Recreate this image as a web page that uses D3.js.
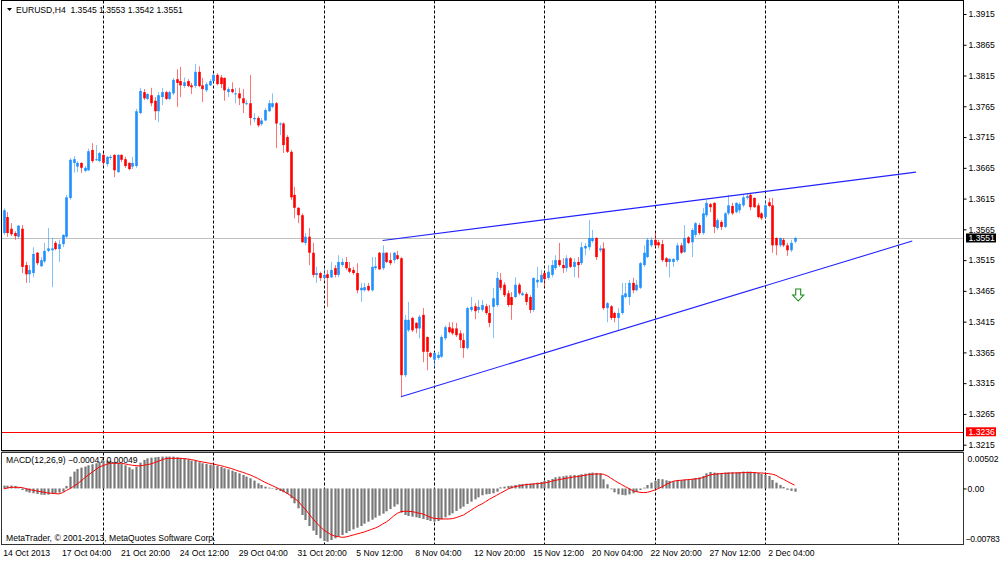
<!DOCTYPE html>
<html>
<head>
<meta charset="utf-8">
<script src="https://cdn.jsdelivr.net/npm/d3@7"></script>
<style>
  html, body { margin: 0; padding: 0; background: #fff; }
  svg { display: block; font-family: "Liberation Sans", Arial, sans-serif; font-size: 8.6px; }
</style>
</head>
<body>
<svg id="chart" width="1000" height="561"></svg>
<script>
// EURUSD H4, bars counted from 14 Oct 2013 00:00 (6 bars a day, no weekends)
const symbol = "EURUSD,H4"
const firstBar = 3

const opens = [
  1.3559, 1.3585, 1.3566, 1.3559, 1.3553, 1.3566, 1.3507, 1.3492, 1.3494, 1.3527,
  1.3505, 1.3513, 1.3530, 1.3531, 1.3543, 1.3533, 1.3541, 1.3553, 1.3616, 1.3673,
  1.3667, 1.3673, 1.3660, 1.3661, 1.3694, 1.3678, 1.3676, 1.3686, 1.3671, 1.3681,
  1.3686, 1.3658, 1.3686, 1.3679, 1.3673, 1.3667, 1.3668, 1.3754, 1.3788, 1.3777,
  1.3783, 1.3774, 1.3757, 1.3780, 1.3788, 1.3777, 1.3786, 1.3809, 1.3806, 1.3798,
  1.3806, 1.3799, 1.3798, 1.3821, 1.3799, 1.3791, 1.3799, 1.3806, 1.3816, 1.3812,
  1.3811, 1.3788, 1.3793, 1.3785, 1.3786, 1.3778, 1.3769, 1.3770, 1.3744, 1.3746,
  1.3736, 1.3742, 1.3757, 1.3764, 1.3770, 1.3736, 1.3737, 1.3715, 1.3691, 1.3621,
  1.3600, 1.3588, 1.3543, 1.3553, 1.3527, 1.3491, 1.3494, 1.3486, 1.3492, 1.3487,
  1.3502, 1.3491, 1.3507, 1.3512, 1.3502, 1.3499, 1.3494, 1.3466, 1.3466, 1.3473,
  1.3466, 1.3502, 1.3527, 1.3502, 1.3527, 1.3515, 1.3515, 1.3523, 1.3518, 1.3328,
  1.3401, 1.3421, 1.3413, 1.3404, 1.3426, 1.3390, 1.3364, 1.3353, 1.3356, 1.3358,
  1.3388, 1.3406, 1.3404, 1.3404, 1.3396, 1.3385, 1.3372, 1.3434, 1.3440, 1.3434,
  1.3434, 1.3440, 1.3429, 1.3439, 1.3442, 1.3483, 1.3475, 1.3461, 1.3455, 1.3455,
  1.3475, 1.3458, 1.3460, 1.3455, 1.3434, 1.3479, 1.3479, 1.3494, 1.3486, 1.3491,
  1.3502, 1.3515, 1.3507, 1.3502, 1.3518, 1.3504, 1.3512, 1.3510, 1.3534, 1.3536,
  1.3546, 1.3551, 1.3531, 1.3534, 1.3437, 1.3440, 1.3429, 1.3421, 1.3429, 1.3455,
  1.3455, 1.3478, 1.3466, 1.3470, 1.3507, 1.3520, 1.3539, 1.3548, 1.3544, 1.3541,
  1.3518, 1.3512, 1.3512, 1.3515, 1.3539, 1.3528, 1.3552, 1.3544, 1.3556, 1.3572,
  1.3559, 1.3588, 1.3606, 1.3608, 1.3567, 1.3577, 1.3569, 1.3591, 1.3603, 1.3593,
  1.3596, 1.3604, 1.3616, 1.3621, 1.3616, 1.3604, 1.3591, 1.3585, 1.3609, 1.3604,
  1.3551, 1.3539, 1.3548, 1.3539, 1.3531, 1.3545
]
const highs = [
  1.3599, 1.3593, 1.3575, 1.3562, 1.3572, 1.3572, 1.3512, 1.3507, 1.3536, 1.3528,
  1.3520, 1.3543, 1.3567, 1.3551, 1.3546, 1.3548, 1.3557, 1.3621, 1.3681, 1.3684,
  1.3676, 1.3674, 1.3668, 1.3696, 1.3705, 1.3702, 1.3691, 1.3689, 1.3684, 1.3686,
  1.3687, 1.3687, 1.3687, 1.3683, 1.3674, 1.3683, 1.3761, 1.3795, 1.3793, 1.3786,
  1.3795, 1.3780, 1.3788, 1.3795, 1.3790, 1.3790, 1.3811, 1.3825, 1.3829, 1.3812,
  1.3809, 1.3803, 1.3834, 1.3830, 1.3811, 1.3804, 1.3809, 1.3819, 1.3819, 1.3816,
  1.3812, 1.3796, 1.3804, 1.3795, 1.3795, 1.3793, 1.3775, 1.3816, 1.3754, 1.3749,
  1.3746, 1.3762, 1.3775, 1.3786, 1.3772, 1.3739, 1.3739, 1.3718, 1.3694, 1.3634,
  1.3601, 1.3591, 1.3559, 1.3567, 1.3543, 1.3504, 1.3496, 1.3502, 1.3499, 1.3512,
  1.3507, 1.3523, 1.3518, 1.3520, 1.3512, 1.3504, 1.3510, 1.3478, 1.3478, 1.3478,
  1.3520, 1.3520, 1.3528, 1.3539, 1.3528, 1.3527, 1.3528, 1.3530, 1.3520, 1.3426,
  1.3447, 1.3423, 1.3414, 1.3426, 1.3437, 1.3391, 1.3366, 1.3366, 1.3366, 1.3393,
  1.3409, 1.3414, 1.3414, 1.3413, 1.3401, 1.3396, 1.3439, 1.3455, 1.3445, 1.3450,
  1.3450, 1.3444, 1.3442, 1.3470, 1.3496, 1.3494, 1.3479, 1.3466, 1.3463, 1.3487,
  1.3478, 1.3464, 1.3463, 1.3458, 1.3487, 1.3504, 1.3499, 1.3496, 1.3507, 1.3515,
  1.3523, 1.3543, 1.3518, 1.3523, 1.3520, 1.3518, 1.3520, 1.3544, 1.3543, 1.3580,
  1.3564, 1.3552, 1.3539, 1.3544, 1.3447, 1.3442, 1.3431, 1.3437, 1.3478, 1.3478,
  1.3483, 1.3486, 1.3483, 1.3512, 1.3539, 1.3551, 1.3552, 1.3560, 1.3548, 1.3548,
  1.3520, 1.3518, 1.3518, 1.3543, 1.3543, 1.3572, 1.3554, 1.3567, 1.3577, 1.3575,
  1.3600, 1.3613, 1.3608, 1.3609, 1.3583, 1.3580, 1.3593, 1.3621, 1.3608, 1.3609,
  1.3609, 1.3621, 1.3624, 1.3624, 1.3617, 1.3608, 1.3593, 1.3613, 1.3616, 1.3616,
  1.3552, 1.3552, 1.3551, 1.3543, 1.3548, 1.3553
]
const lows = [
  1.3556, 1.3553, 1.3554, 1.3548, 1.3550, 1.3494, 1.3478, 1.3478, 1.3487, 1.3507,
  1.3504, 1.3510, 1.3528, 1.3471, 1.3531, 1.3512, 1.3536, 1.3551, 1.3613, 1.3657,
  1.3658, 1.3657, 1.3658, 1.3660, 1.3673, 1.3676, 1.3674, 1.3668, 1.3667, 1.3678,
  1.3650, 1.3657, 1.3674, 1.3665, 1.3661, 1.3663, 1.3665, 1.3752, 1.3775, 1.3775,
  1.3765, 1.3743, 1.3739, 1.3767, 1.3775, 1.3775, 1.3783, 1.3764, 1.3780, 1.3795,
  1.3796, 1.3785, 1.3795, 1.3796, 1.3772, 1.3788, 1.3798, 1.3804, 1.3799, 1.3795,
  1.3774, 1.3780, 1.3786, 1.3770, 1.3767, 1.3754, 1.3767, 1.3734, 1.3739, 1.3731,
  1.3733, 1.3741, 1.3756, 1.3762, 1.3697, 1.3718, 1.3689, 1.3689, 1.3613, 1.3583,
  1.3575, 1.3543, 1.3539, 1.3507, 1.3487, 1.3478, 1.3481, 1.3483, 1.3439, 1.3486,
  1.3487, 1.3487, 1.3504, 1.3499, 1.3494, 1.3491, 1.3461, 1.3447, 1.3464, 1.3464,
  1.3464, 1.3499, 1.3499, 1.3499, 1.3510, 1.3507, 1.3510, 1.3515, 1.3293, 1.3325,
  1.3398, 1.3398, 1.3396, 1.3388, 1.3349, 1.3336, 1.3356, 1.3341, 1.3353, 1.3356,
  1.3385, 1.3396, 1.3393, 1.3390, 1.3372, 1.3356, 1.3370, 1.3431, 1.3419, 1.3429,
  1.3431, 1.3426, 1.3406, 1.3388, 1.3439, 1.3466, 1.3455, 1.3439, 1.3418, 1.3453,
  1.3458, 1.3457, 1.3442, 1.3429, 1.3431, 1.3470, 1.3478, 1.3471, 1.3483, 1.3487,
  1.3499, 1.3504, 1.3494, 1.3496, 1.3502, 1.3487, 1.3486, 1.3507, 1.3523, 1.3531,
  1.3543, 1.3515, 1.3528, 1.3434, 1.3414, 1.3418, 1.3414, 1.3401, 1.3426, 1.3453,
  1.3442, 1.3461, 1.3464, 1.3468, 1.3504, 1.3518, 1.3536, 1.3536, 1.3534, 1.3512,
  1.3504, 1.3487, 1.3504, 1.3512, 1.3525, 1.3527, 1.3541, 1.3520, 1.3552, 1.3556,
  1.3556, 1.3585, 1.3593, 1.3559, 1.3564, 1.3564, 1.3567, 1.3588, 1.3588, 1.3591,
  1.3591, 1.3601, 1.3613, 1.3596, 1.3600, 1.3583, 1.3580, 1.3583, 1.3601, 1.3527,
  1.3523, 1.3536, 1.3536, 1.3522, 1.3528, 1.3542
]
const closes = [
  1.3596, 1.3559, 1.3557, 1.3554, 1.3571, 1.3504, 1.3492, 1.3499, 1.3525, 1.3510,
  1.3515, 1.3530, 1.3534, 1.3534, 1.3533, 1.3541, 1.3556, 1.3617, 1.3678, 1.3679,
  1.3673, 1.3665, 1.3665, 1.3692, 1.3676, 1.3679, 1.3689, 1.3673, 1.3683, 1.3683,
  1.3661, 1.3686, 1.3678, 1.3668, 1.3663, 1.3673, 1.3757, 1.3790, 1.3778, 1.3785,
  1.3770, 1.3757, 1.3783, 1.3788, 1.3777, 1.3788, 1.3808, 1.3803, 1.3799, 1.3804,
  1.3798, 1.3796, 1.3821, 1.3798, 1.3793, 1.3801, 1.3806, 1.3816, 1.3801, 1.3801,
  1.3791, 1.3793, 1.3788, 1.3786, 1.3778, 1.3770, 1.3770, 1.3746, 1.3746, 1.3734,
  1.3742, 1.3759, 1.3770, 1.3770, 1.3737, 1.3737, 1.3702, 1.3691, 1.3617, 1.3600,
  1.3588, 1.3544, 1.3553, 1.3527, 1.3491, 1.3494, 1.3486, 1.3491, 1.3486, 1.3499,
  1.3491, 1.3512, 1.3512, 1.3502, 1.3496, 1.3494, 1.3466, 1.3470, 1.3471, 1.3466,
  1.3504, 1.3505, 1.3500, 1.3527, 1.3512, 1.3510, 1.3527, 1.3517, 1.3328, 1.3418,
  1.3418, 1.3401, 1.3404, 1.3423, 1.3366, 1.3366, 1.3358, 1.3364, 1.3361, 1.3390,
  1.3406, 1.3398, 1.3396, 1.3393, 1.3385, 1.3372, 1.3437, 1.3439, 1.3432, 1.3439,
  1.3442, 1.3429, 1.3413, 1.3453, 1.3486, 1.3470, 1.3458, 1.3442, 1.3442, 1.3475,
  1.3461, 1.3461, 1.3447, 1.3434, 1.3486, 1.3483, 1.3491, 1.3484, 1.3496, 1.3507,
  1.3515, 1.3507, 1.3502, 1.3518, 1.3504, 1.3512, 1.3507, 1.3536, 1.3538, 1.3551,
  1.3551, 1.3520, 1.3534, 1.3437, 1.3445, 1.3421, 1.3421, 1.3429, 1.3458, 1.3461,
  1.3478, 1.3466, 1.3475, 1.3510, 1.3527, 1.3548, 1.3548, 1.3539, 1.3539, 1.3515,
  1.3512, 1.3517, 1.3517, 1.3539, 1.3527, 1.3551, 1.3543, 1.3564, 1.3575, 1.3559,
  1.3591, 1.3608, 1.3601, 1.3569, 1.3580, 1.3569, 1.3591, 1.3604, 1.3591, 1.3608,
  1.3606, 1.3617, 1.3619, 1.3601, 1.3601, 1.3585, 1.3583, 1.3604, 1.3603, 1.3539,
  1.3539, 1.3551, 1.3539, 1.3531, 1.3543, 1.3551
]

// MACD(12,26,9), in units of 0.00001
const macdUnit = 0.00001
const macdMain = [
    41,   41,   41,   36,   17,  -22,  -46,  -60,  -69,  -79,
   -89,  -93,  -89,  -79,  -69,  -60,  -46,   36,  170,  242,
   280,  299,  314,  333,  347,  362,  381,  395,  400,  395,
   381,  371,  352,  333,  304,  275,  314,  371,  410,  433,
   443,  448,  453,  457,  457,  457,  457,  448,  438,  429,
   419,  400,  395,  376,  362,  352,  342,  333,  323,  309,
   290,  275,  256,  237,  218,  194,  170,  146,  113,   74,
    50,   26,   12,   -7,  -22,  -36,  -55,  -79, -141, -213,
  -285, -381, -453, -539, -606, -668, -716, -754, -764, -740,
  -716, -692, -668, -640, -611, -587, -563, -539, -505, -477,
  -448, -419, -390, -362, -328, -295, -261, -228, -347, -381,
  -395, -405, -414, -424, -438, -453, -467, -477, -467, -443,
  -414, -386, -357, -323, -290, -261, -223, -189, -156, -127,
   -98,  -84,  -79,  -69,  -46,   17,   26,   36,   41,   50,
    60,   65,   69,   69,   74,   84,   93,  108,  122,  137,
   160,  170,  175,  184,  189,  194,  194,  204,  213,  223,
   228,  223,  218,  132,   60,  -12,  -55,  -84,  -93,  -98,
   -84,  -69,  -50,  -22,   12,   50,   84,  108,  137,  132,
   117,  108,  103,  113,  117,  127,  127,  137,  151,  160,
   180,  218,  237,  228,  223,  223,  228,  232,  232,  232,
   237,  242,  242,  242,  237,  223,  208,  199,  180,  122,
    84,   50,   22,  -20,  -35,  -47
]
const macdSignal = [
    -7,    7,   17,   17,   17,   12,   -2,  -17,  -26,  -36,
   -46,  -55,  -65,  -69,  -74,  -79,  -60,  -31,   -2,   31,
    65,  108,  151,  194,  232,  271,  309,  328,  347,  362,
   362,  362,  362,  352,  342,  333,  328,  323,  333,  342,
   352,  371,  390,  410,  429,  433,  433,  433,  433,  429,
   424,  414,  405,  390,  381,  371,  362,  352,  338,  328,
   314,  299,  285,  266,  247,  232,  213,  194,  170,  146,
   117,   89,   65,   41,   17,  -12,  -36,  -69, -103, -141,
  -180, -242, -299, -366, -433, -491, -548, -596, -630, -664,
  -683, -692, -702, -697, -683, -668, -654, -640, -625, -606,
  -587, -568, -544, -510, -482, -443, -395, -357, -333, -328,
  -328, -333, -343, -357, -366, -390, -414, -429, -433, -438,
  -438, -438, -433, -419, -400, -381, -347, -314, -280, -247,
  -223, -189, -156, -127,  -98,  -69,  -41,  -12,   12,   26,
    36,   45,   55,   60,   65,   69,   74,   79,   89,  103,
   117,  127,  137,  146,  156,  165,  170,  180,  189,  199,
   204,  208,  208,  204,  184,  151,  117,   84,   55,   26,
    -2,  -31,  -46,  -55,  -60,  -55,  -41,  -22,   -2,   26,
    55,   79,  103,  113,  117,  122,  127,  132,  137,  141,
   156,  175,  194,  204,  208,  213,  218,  218,  223,  223,
   223,  228,  228,  228,  228,  223,  223,  218,  213,  204,
   189,  156,  132,  103,   74,   49
]

const priceTicks = [1.3915, 1.3865, 1.3815, 1.3765, 1.3715, 1.3665, 1.3615, 1.3565,
                    1.3515, 1.3465, 1.3415, 1.3365, 1.3315, 1.3265, 1.3215]
const macdTicks = [0.00502, 0, -0.00783]
const timeLabels = ["14 Oct 2013", "17 Oct 04:00", "21 Oct 20:00", "24 Oct 12:00", "29 Oct 04:00",
                    "31 Oct 20:00", "5 Nov 12:00", "8 Nov 04:00", "12 Nov 20:00", "15 Nov 12:00",
                    "20 Nov 04:00", "22 Nov 20:00", "27 Nov 12:00", "2 Dec 04:00"]
const timeLabelBars = [3, 19, 35, 51, 67, 83, 99, 115, 131, 147, 163, 179, 195, 211]
const weekBars = [30, 60, 90, 120, 150, 180, 210, 246]

// objects drawn on the chart: [bar, price]
const upperTrend = [[106, 1.3547], [251, 1.3658]]
const lowerTrend = [[111, 1.3293], [250, 1.3546]]
const redLevel = 1.3236
const sellArrow = [219, 1.3468]

const width = 1000, height = 561
const plotLeft = 1.5, plotRight = 963.5
const mainTop = 0.5, mainBottom = 450.5
const macdTop = 452.5, macdBottom = 544.5

const svg = d3.select("#chart")

const x = d3.scaleLinear().domain([0, 210]).range([-7.3, 765.1])
const y = d3.scaleLinear().domain([1.3215, 1.3915]).range([444.7, 14])
const ym = d3.scaleLinear().domain([-0.00783, 0.00502]).range([543, 453.5])
const px = (v) => Math.round(v) + 0.5

const bars = opens.map((o, k) => ({
  bar: firstBar + k, o, h: highs[k], l: lows[k], c: closes[k],
  m: macdMain[k] * macdUnit, s: macdSignal[k] * macdUnit
}))
const last = bars[bars.length - 1]

svg.append("rect").attr("width", width).attr("height", height).attr("fill", "#fff")

svg.append("defs").append("clipPath").attr("id", "mainClip")
  .append("rect").attr("x", plotLeft).attr("y", mainTop)
  .attr("width", plotRight - plotLeft).attr("height", mainBottom - mainTop)

// weekly separators
const grid = svg.append("g").attr("stroke", "#000").attr("stroke-dasharray", "3,2")
weekBars.forEach(b => {
  grid.append("line").attr("x1", px(x(b))).attr("x2", px(x(b))).attr("y1", mainTop).attr("y2", mainBottom)
  grid.append("line").attr("x1", px(x(b))).attr("x2", px(x(b))).attr("y1", macdTop).attr("y2", macdBottom)
})

const main = svg.append("g").attr("clip-path", "url(#mainClip)")

// bid line and red level
main.append("line").attr("x1", plotLeft).attr("x2", plotRight)
  .attr("y1", px(y(last.c))).attr("y2", px(y(last.c))).attr("stroke", "#c0c0c0")
main.append("line").attr("x1", plotLeft).attr("x2", plotRight)
  .attr("y1", px(y(redLevel))).attr("y2", px(y(redLevel))).attr("stroke", "#ff0000")

// candles
const colour = (d) => d.c >= d.o ? "#1e90ff" : "#ff0000"
const candle = main.selectAll("g.candle").data(bars).join("g").attr("class", "candle")
candle.append("line")
  .attr("x1", d => px(x(d.bar))).attr("x2", d => px(x(d.bar)))
  .attr("y1", d => y(d.h)).attr("y2", d => y(d.l))
  .attr("stroke", colour).attr("stroke-opacity", 0.55)
candle.append("rect")
  .attr("x", d => px(x(d.bar)) - 1.3).attr("width", 2.6)
  .attr("y", d => y(Math.max(d.o, d.c)))
  .attr("height", d => Math.max(1, y(Math.min(d.o, d.c)) - y(Math.max(d.o, d.c))))
  .attr("fill", colour)

// trend lines
;[upperTrend, lowerTrend].forEach(t => {
  main.append("line")
    .attr("x1", x(t[0][0])).attr("y1", y(t[0][1]))
    .attr("x2", x(t[1][0])).attr("y2", y(t[1][1]))
    .attr("stroke", "#2222ff").attr("stroke-width", 1.1)
})

// sell arrow
main.append("path")
  .attr("transform", `translate(${x(sellArrow[0])},${y(sellArrow[1])})`)
  .attr("d", "M-2.5,0H2.5V6H5.5L0,12L-5.5,6H-2.5Z")
  .attr("fill", "#fff").attr("stroke", "#1a8a1a").attr("stroke-width", 1.1)

// MACD histogram and signal
const macd = svg.append("g")
macd.selectAll("rect").data(bars).join("rect")
  .attr("x", d => px(x(d.bar)) - 1.1).attr("width", 2.2)
  .attr("y", d => Math.min(ym(0), ym(d.m)))
  .attr("height", d => Math.max(0.5, Math.abs(ym(d.m) - ym(0))))
  .attr("fill", "#787878")
macd.append("path").datum(bars)
  .attr("d", d3.line().x(d => x(d.bar)).y(d => ym(d.s)))
  .attr("fill", "none").attr("stroke", "#ff0000")

// frames
svg.append("rect").attr("x", plotLeft).attr("y", mainTop)
  .attr("width", plotRight - plotLeft).attr("height", mainBottom - mainTop)
  .attr("fill", "none").attr("stroke", "#000")
svg.append("rect").attr("x", plotLeft).attr("y", mainBottom + 0.5)
  .attr("width", plotRight - plotLeft).attr("height", macdTop - mainBottom - 1)
  .attr("fill", "#a0a0a0")
svg.append("rect").attr("x", plotLeft).attr("y", macdTop)
  .attr("width", plotRight - plotLeft).attr("height", macdBottom - macdTop)
  .attr("fill", "none").attr("stroke", "#333")

// price axis
const priceAxis = svg.append("g").attr("transform", `translate(${plotRight},0)`)
  .call(d3.axisRight(y).tickValues(priceTicks).tickSize(3).tickPadding(2).tickFormat(d3.format(".4f")))
  .attr("font-size", null).attr("font-family", null)
priceAxis.select(".domain").remove()

// MACD axis
const macdAxis = svg.append("g").attr("transform", `translate(${plotRight},0)`)
  .call(d3.axisRight(ym).tickValues(macdTicks).tickSize(3).tickPadding(1)
    .tickFormat(d => d === 0 ? "0.00" : d3.format(".5f")(d)))
  .attr("font-size", null).attr("font-family", null)
macdAxis.select(".domain").remove()
macdAxis.selectAll("text")
  .attr("x", d => d < 0 ? 2 : 4)
  .attr("letter-spacing", d => d < 0 ? "-0.25px" : null)
  .attr("dy", d => d > 0 ? "0.9em" : d < 0 ? "-0.22em" : "0.32em")
macdAxis.selectAll("line").attr("opacity", d => d === 0 ? 1 : 0)

// time axis
const timeAxis = svg.append("g").attr("transform", `translate(0,${macdBottom})`)
  .call(d3.axisBottom(x).tickValues(timeLabelBars).tickSize(0).tickPadding(5.5)
    .tickFormat((d, k) => timeLabels[k]))
  .attr("font-size", null).attr("font-family", null)
timeAxis.select(".domain").remove()
timeAxis.selectAll("text").attr("text-anchor", "start").attr("dx", -1)

// price tags on the axis
const tag = (price, fill) => {
  const g = svg.append("g").attr("transform", `translate(${plotRight + 2.5},${y(price)})`)
  g.append("rect").attr("x", 0).attr("y", -4.5).attr("width", 30).attr("height", 9).attr("fill", fill)
  g.append("text").attr("x", 2.5).attr("dy", "0.34em").attr("fill", "#fff").text(d3.format(".4f")(price))
}
tag(last.c, "#000")
tag(redLevel, "#ff0000")

// titles
const fmt = d3.format(".4f")
svg.append("path").attr("d", "M7,8H12L9.5,11Z").attr("fill", "#000")
svg.append("text").attr("x", 16).attr("y", 12.5)
  .text(`${symbol}  ${fmt(last.o)} ${fmt(last.h)} ${fmt(last.l)} ${fmt(last.c)}`)
  .attr("xml:space", "preserve").style("white-space", "pre")
const fmt5 = d3.format(".5f")
svg.append("text").attr("x", 6).attr("y", 463)
  .text(`MACD(12,26,9) ${fmt5(last.m)} ${fmt5(last.s)}`)
svg.append("text").attr("x", 6).attr("y", 540.5)
  .text("MetaTrader, \u00a9 2001-2013, MetaQuotes Software Corp.")
</script>
</body>
</html>
